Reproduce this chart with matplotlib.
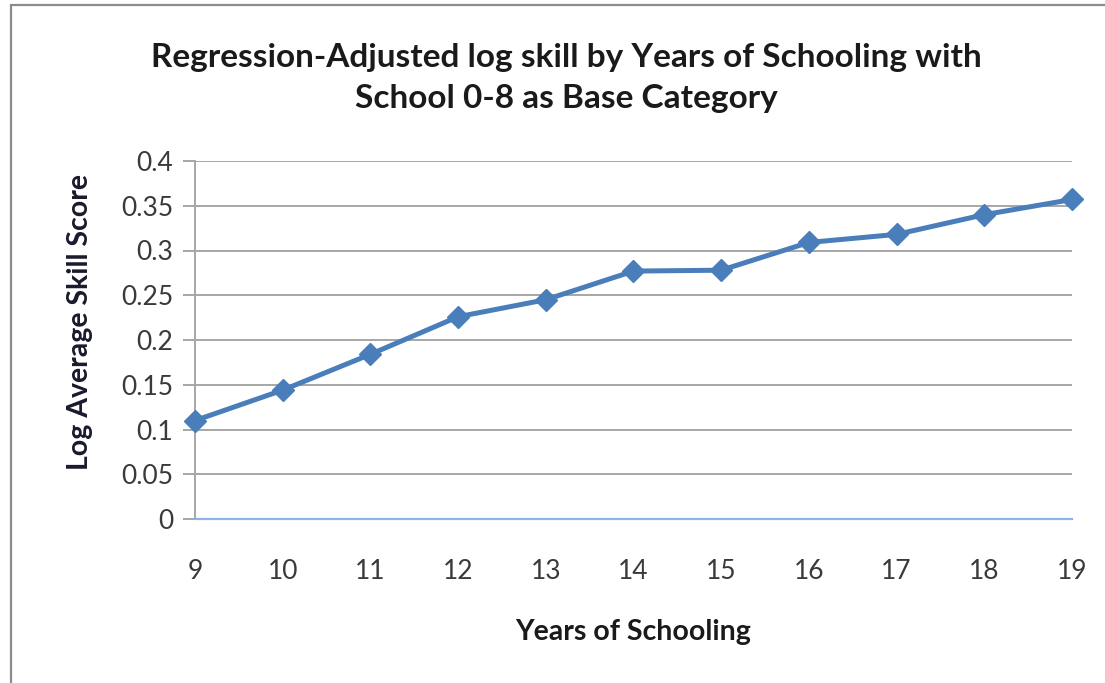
import matplotlib
matplotlib.use("Agg")
import matplotlib.pyplot as plt
from matplotlib.patches import Rectangle

years = [9, 10, 11, 12, 13, 14, 15, 16, 17, 18, 19]
log_skill = [0.110, 0.144, 0.184, 0.226, 0.245, 0.277, 0.278, 0.309, 0.318, 0.340, 0.357]
y_ticks = [0, 0.05, 0.1, 0.15, 0.2, 0.25, 0.3, 0.35, 0.4]
y_tick_labels = ["0", "0.05", "0.1", "0.15", "0.2", "0.25", "0.3", "0.35", "0.4"]

title = "Regression-Adjusted log skill by Years of Schooling with\nSchool 0-8 as Base Category"
xlabel = "Years of Schooling"
ylabel = "Log Average Skill Score"

plt.rcParams['font.family'] = ['Lato', 'DejaVu Sans']

W, H = 1105, 683
fig = plt.figure(figsize=(W / 100, H / 100), dpi=100)
fig.patch.set_facecolor("white")

# chart frame (only left/top visible in the reference)
fig.patches.append(Rectangle((11 / W, -0.05), 1.2, 1 - 5 / H + 0.05,
                             transform=fig.transFigure, fill=False,
                             edgecolor="#8c8c8c", linewidth=1.6))

ax = fig.add_axes([195 / W, 1 - 519 / H, (1072 - 195) / W, (519 - 161) / H])
ax.plot(years, log_skill, color="#4A7EBB", linewidth=3.6, marker="D",
        markersize=11, markerfacecolor="#4A7EBB", markeredgecolor="#4A7EBB",
        zorder=5, clip_on=False)

ax.set_xlim(years[0], years[-1])
ax.set_ylim(0, 0.4)
ax.set_xticks(years)
ax.set_xticklabels([str(y) for y in years])
ax.set_yticks(y_ticks)
ax.set_yticklabels(y_tick_labels)

ax.yaxis.grid(True, color="#a6a6a6", linewidth=1.4)
ax.set_axisbelow(True)
for s in ["top", "right"]:
    ax.spines[s].set_visible(False)
ax.spines["left"].set_color("#a6a6a6")
ax.spines["left"].set_linewidth(1.4)
ax.spines["bottom"].set_color("#8EB4E3")
ax.spines["bottom"].set_linewidth(1.6)
ax.spines["bottom"].set_zorder(3)

ax.tick_params(axis="y", length=8.5, width=1.4, color="#a6a6a6",
               labelsize=19, labelcolor="#3a3a3a", pad=7)
ax.tick_params(axis="x", length=0, labelsize=19, labelcolor="#3a3a3a", pad=29)

ax.set_xlabel(xlabel, fontsize=20.5, fontweight="bold", color="#1a1a1a")
ax.set_ylabel(ylabel, fontsize=20.5, fontweight="bold", color="#1a1a2e")
ax.xaxis.set_label_coords(0.5, (519 - 632) / 358, transform=ax.transAxes)
ax.xaxis.label.set_va("center")
ax.yaxis.set_label_coords((80 - 195) / 877, (519 - 322) / 358, transform=ax.transAxes)
ax.yaxis.label.set_va("center")

fig.text(566 / W, 1 - 78 / H, title, ha="center", va="center",
         fontsize=24, fontweight="bold", color="#1a1a1a", linespacing=1.5)

fig.savefig("out.png", dpi=100, facecolor="white")
